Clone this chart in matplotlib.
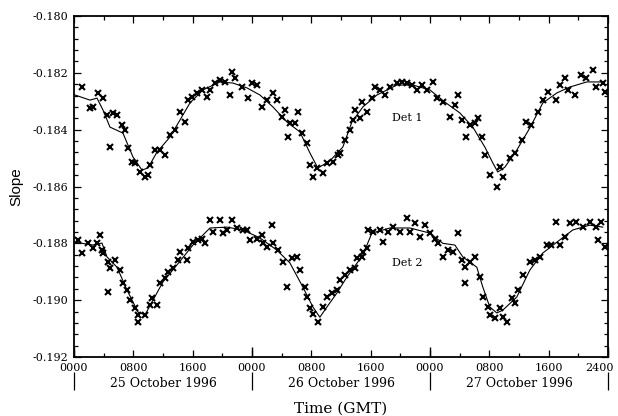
import numpy as np
import matplotlib
matplotlib.use("Agg")
import matplotlib.pyplot as plt
from matplotlib.transforms import ScaledTranslation

plt.rcParams['font.family'] = 'DejaVu Serif'
plt.rcParams['axes.unicode_minus'] = False

# Det 1 measurements (hours since 0000 GMT 25 Oct 1996, slope)
det1_hours = [1.04, 2.16, 2.60, 3.27, 3.95, 4.41, 4.85, 5.30, 5.75, 6.43, 6.87, 7.32, 7.78, 8.22,
              8.89, 9.57, 10.01, 10.24, 10.92, 11.59, 12.26, 12.94, 13.61, 14.29, 14.96, 15.40,
              15.86, 16.54, 17.21, 17.88, 18.33, 19.00, 19.68, 20.35, 21.02, 21.25, 21.70, 22.60,
              23.49, 23.95, 24.62, 25.30, 25.97, 26.86, 27.32, 27.99, 28.44, 28.88, 29.11, 29.78,
              30.23, 30.69, 31.36, 31.81, 32.25, 32.71, 33.60, 34.06, 34.95, 35.62, 35.85, 36.52,
              37.20, 37.64, 37.87, 38.54, 38.77, 39.45, 40.12, 40.57, 41.24, 41.91, 42.59, 43.49,
              44.16, 44.84, 45.51, 46.19, 46.86, 47.53, 48.42, 48.88, 49.77, 50.67, 51.35, 51.79,
              52.25, 52.92, 53.37, 54.04, 54.49, 54.95, 55.39, 56.06, 56.97, 57.41, 57.86, 58.76,
              59.43, 60.34, 61.01, 61.68, 62.57, 63.25, 63.92, 65.05, 65.50, 66.17, 66.62, 67.52,
              68.42, 69.10, 69.99, 70.44, 71.33, 71.56]
det1_slope = [-0.18249, -0.18324, -0.18319, -0.18272, -0.18290, -0.18348, -0.18460, -0.18342,
              -0.18348, -0.18384, -0.18401, -0.18466, -0.18513, -0.18518, -0.18548, -0.18566,
              -0.18560, -0.18524, -0.18472, -0.18472, -0.18489, -0.18419, -0.18401, -0.18337,
              -0.18372, -0.18296, -0.18284, -0.18272, -0.18260, -0.18284, -0.18260, -0.18237,
              -0.18225, -0.18231, -0.18278, -0.18196, -0.18219, -0.18249, -0.18290, -0.18237,
              -0.18243, -0.18319, -0.18296, -0.18272, -0.18296, -0.18354, -0.18331, -0.18425,
              -0.18378, -0.18378, -0.18337, -0.18413, -0.18448, -0.18524, -0.18566, -0.18536,
              -0.18554, -0.18518, -0.18513, -0.18489, -0.18483, -0.18437, -0.18401, -0.18366,
              -0.18331, -0.18360, -0.18302, -0.18337, -0.18290, -0.18249, -0.18260, -0.18278,
              -0.18249, -0.18237, -0.18231, -0.18237, -0.18243, -0.18260, -0.18243, -0.18260,
              -0.18231, -0.18290, -0.18302, -0.18354, -0.18313, -0.18278, -0.18366, -0.18425,
              -0.18384, -0.18378, -0.18360, -0.18425, -0.18489, -0.18560, -0.18601, -0.18530,
              -0.18566, -0.18501, -0.18483, -0.18437, -0.18372, -0.18384, -0.18337, -0.18296,
              -0.18266, -0.18296, -0.18243, -0.18219, -0.18260, -0.18278, -0.18208, -0.18219,
              -0.18190, -0.18249, -0.18237, -0.18266]

# Det 1 fitted curve
det1_fit_hours = [0.13, 2.16, 3.10, 3.91, 4.85, 6.60, 7.95, 9.16, 9.97, 11.19, 12.94, 14.29, 15.63,
                  17.39, 19.68, 21.43, 23.32, 25.07, 26.82, 28.71, 30.46, 31.81, 32.88, 34.50,
                  36.25, 37.47, 38.95, 40.84, 43.53, 45.69, 47.98, 50.00, 52.02, 53.77, 55.39,
                  56.47, 57.14, 58.09, 59.70, 61.46, 63.21, 65.09, 66.85, 69.14, 71.29]
det1_fit_slope = [-0.18278, -0.18296, -0.18289, -0.18331, -0.18391, -0.18412, -0.18496, -0.18542,
                  -0.18535, -0.18479, -0.18426, -0.18366, -0.18306, -0.18260, -0.18232, -0.18236,
                  -0.18253, -0.18278, -0.18320, -0.18373, -0.18408, -0.18482, -0.18535, -0.18510,
                  -0.18461, -0.18373, -0.18320, -0.18278, -0.18243, -0.18243, -0.18260, -0.18303,
                  -0.18341, -0.18391, -0.18461, -0.18517, -0.18549, -0.18532, -0.18472, -0.18394,
                  -0.18306, -0.18271, -0.18250, -0.18232, -0.18232]

# Det 2 measurements
det2_hours = [0.58, 1.04, 1.93, 2.60, 3.06, 3.50, 3.73, 3.95, 4.62, 4.85, 4.62, 5.53, 6.20, 6.64,
              7.10, 7.55, 8.22, 8.67, 8.67, 9.57, 10.24, 10.47, 11.15, 11.59, 12.26, 12.71, 13.38,
              14.06, 14.29, 15.19, 15.40, 16.08, 16.75, 17.21, 17.65, 18.33, 18.77, 19.68, 20.12,
              20.58, 21.25, 21.93, 22.82, 23.27, 23.72, 24.62, 25.30, 25.51, 25.97, 26.64, 26.86,
              27.53, 28.21, 28.67, 29.34, 30.01, 30.46, 31.13, 31.36, 31.81, 32.25, 32.92, 33.60,
              34.06, 34.73, 35.40, 35.85, 36.52, 37.20, 37.87, 38.10, 38.77, 38.99, 39.45, 39.66,
              40.34, 41.24, 41.68, 42.36, 43.03, 43.94, 44.84, 45.28, 45.96, 46.63, 47.30, 47.98,
              48.65, 49.10, 49.77, 50.44, 51.12, 51.79, 52.25, 52.70, 52.70, 53.37, 54.04, 54.72,
              55.16, 55.84, 56.06, 56.74, 57.41, 57.86, 58.32, 58.99, 59.43, 59.88, 60.55, 61.46,
              62.13, 62.80, 63.71, 64.38, 65.05, 65.50, 66.17, 66.85, 67.75, 68.64, 69.54, 70.44,
              71.12, 70.66, 71.56]
det2_slope = [-0.18788, -0.18835, -0.18800, -0.18818, -0.18800, -0.18771, -0.18824, -0.18835,
              -0.18865, -0.18888, -0.18970, -0.18859, -0.18894, -0.18941, -0.18964, -0.19000,
              -0.19029, -0.19052, -0.19076, -0.19052, -0.19017, -0.18994, -0.19017, -0.18941,
              -0.18923, -0.18900, -0.18888, -0.18859, -0.18830, -0.18859, -0.18818, -0.18794,
              -0.18788, -0.18783, -0.18800, -0.18718, -0.18759, -0.18718, -0.18765, -0.18753,
              -0.18718, -0.18747, -0.18753, -0.18753, -0.18788, -0.18783, -0.18771, -0.18800,
              -0.18812, -0.18736, -0.18800, -0.18824, -0.18865, -0.18953, -0.18853, -0.18847,
              -0.18894, -0.18953, -0.18988, -0.19029, -0.19047, -0.19076, -0.19023, -0.18988,
              -0.18976, -0.18964, -0.18929, -0.18912, -0.18894, -0.18888, -0.18853, -0.18847,
              -0.18830, -0.18818, -0.18753, -0.18759, -0.18753, -0.18794, -0.18759, -0.18742,
              -0.18759, -0.18712, -0.18759, -0.18730, -0.18777, -0.18736, -0.18765, -0.18783,
              -0.18800, -0.18847, -0.18824, -0.18830, -0.18765, -0.18859, -0.18882, -0.18941,
              -0.18865, -0.18847, -0.18918, -0.18988, -0.19023, -0.19052, -0.19064, -0.19029,
              -0.19058, -0.19076, -0.18994, -0.19011, -0.18964, -0.18912, -0.18865, -0.18859,
              -0.18847, -0.18806, -0.18806, -0.18724, -0.18806, -0.18777, -0.18730, -0.18724,
              -0.18742, -0.18724, -0.18742, -0.18724, -0.18788, -0.18812]

# Det 2 fitted curve
det2_fit_hours = [0.13, 2.56, 3.77, 4.45, 5.80, 7.14, 8.63, 9.57, 10.65, 11.99, 13.88, 16.04, 18.33,
                  20.62, 22.78, 25.07, 27.36, 29.11, 30.86, 32.21, 33.15, 34.10, 35.44, 36.79,
                  38.95, 40.16, 42.59, 45.28, 47.98, 49.73, 51.35, 52.43, 54.31, 55.12, 56.06,
                  57.01, 57.82, 59.70, 61.46, 63.21, 65.50, 67.25, 69.54, 71.29]
det2_fit_slope = [-0.18796, -0.18806, -0.18799, -0.18848, -0.18884, -0.18964, -0.19042, -0.19052,
                  -0.19000, -0.18936, -0.18876, -0.18806, -0.18746, -0.18743, -0.18753, -0.18781,
                  -0.18824, -0.18869, -0.18954, -0.19024, -0.19060, -0.19024, -0.18975, -0.18919,
                  -0.18841, -0.18764, -0.18746, -0.18746, -0.18764, -0.18800, -0.18806, -0.18848,
                  -0.18884, -0.18954, -0.19024, -0.19045, -0.19035, -0.18989, -0.18894, -0.18834,
                  -0.18788, -0.18753, -0.18736, -0.18743]

x_ticks = [0, 8, 16, 24, 32, 40, 48, 56, 64, 72]
x_tick_labels = ['0000', '0800', '1600', '0000', '0800', '1600', '0000', '0800', '1600', '2400']
day_bounds = [0, 24, 48, 72]
day_centres = [12, 36, 60]
day_labels = ['25 October 1996', '26 October 1996', '27 October 1996']

fig = plt.figure(figsize=(6.18, 4.16), dpi=100)
ax = fig.add_axes([74/618, 1-357/416, 534/618, 341/416])

ax.plot(det1_fit_hours, det1_fit_slope, color='black', lw=0.8)
ax.plot(det1_hours, det1_slope, 'x', color='black', ms=4, mew=1.5)
ax.plot(det2_fit_hours, det2_fit_slope, color='black', lw=0.8)
ax.plot(det2_hours, det2_slope, 'x', color='black', ms=4, mew=1.5)

ax.text(45, -0.18359, 'Det 1', ha='center', va='center', fontsize=8)
ax.text(45, -0.18869, 'Det 2', ha='center', va='center', fontsize=8)

ax.set_xlim(0, 72)
ax.set_ylim(-0.192, -0.180)
ax.set_xticks(x_ticks)
ax.set_xticklabels(x_tick_labels)
ax.set_xticks(np.arange(0, 73, 4), minor=True)
ax.set_yticks(np.arange(-0.192, -0.1799, 0.002))
ax.set_yticks(np.arange(-0.192, -0.1799, 0.0004), minor=True)
ax.yaxis.set_major_formatter(matplotlib.ticker.FormatStrFormatter('%.3f'))
ax.tick_params(which='both', direction='in', top=True, right=True, width=0.9, labelsize=8)
ax.tick_params(which='major', length=5, pad=4)
ax.tick_params(which='minor', length=3)
for s in ax.spines.values():
    s.set_linewidth(1.3)

# last label sits at the right edge: nudge it in a little
last = ax.get_xticklabels()[-1]
last.set_transform(last.get_transform() + ScaledTranslation(-6/72, 0, fig.dpi_scale_trans))

# taller ticks at day boundaries and separator marks below the labels
ax.vlines(day_bounds, 0, 0.028, transform=ax.get_xaxis_transform(), color='black', lw=1.0, clip_on=False)
ax.vlines(day_bounds, -0.045, -0.097, transform=ax.get_xaxis_transform(), color='black', lw=0.9, clip_on=False)
for c, lab in zip(day_centres, day_labels):
    ax.text(c, -0.079, lab, transform=ax.get_xaxis_transform(), ha='center', va='center', fontsize=9)

ax.set_xlabel('Time (GMT)', fontsize=11, labelpad=21)
ax.set_ylabel('Slope', fontsize=11, family='Liberation Sans', labelpad=7)

fig.savefig('out.png', dpi=100)
